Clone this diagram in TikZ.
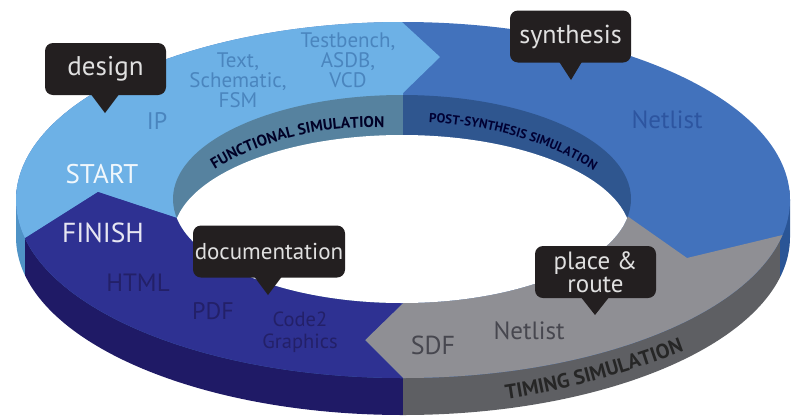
\documentclass[tikz,border=0pt]{standalone}
\usepackage{fontspec}
\setmainfont{PT Sans}
\usetikzlibrary{decorations.text}
\definecolor{cLight}{HTML}{6DB1E6}
\definecolor{cMid}{HTML}{4272BC}
\definecolor{cGray}{HTML}{8F8F94}
\definecolor{cNavy}{HTML}{2E3192}
\definecolor{cLightWall}{HTML}{4F93C6}
\definecolor{cMidWall}{HTML}{2A5596}
\definecolor{cGrayWall}{HTML}{5E5F63}
\definecolor{cNavyWall}{HTML}{1F1A66}
\definecolor{cSteel}{HTML}{56829F}
\definecolor{cInnerDark}{HTML}{2F568F}
\definecolor{cBubble}{HTML}{231F20}
\definecolor{tLight}{HTML}{4A85BE}
\definecolor{tMid}{HTML}{2D55A0}
\definecolor{tGray}{HTML}{47474F}
\definecolor{tNavy}{HTML}{232068}
\tikzset{
  bubble/.style={fill=cBubble,rounded corners=8pt,inner sep=0pt,minimum width=121pt,minimum height=52pt,text=white!88!black,align=center},
  tiptri/.style={fill=cBubble},
  lab/.style={inner sep=0pt,align=center},
}
\newcommand{\fsz}[1]{\fontsize{#1}{#1}\selectfont}
\begin{document}
\begin{tikzpicture}[x=1pt,y=-1pt]
\useasboundingbox (0,0) rectangle (799,418);
% outer walls
\begin{scope}
  \clip (16,200) -- (16,237) arc[start angle=180,end angle=0,x radius=387,y radius=178] -- (790,200) arc[start angle=0,end angle=-180,x radius=387,y radius=178] -- cycle;
  \fill[cLightWall] (0,190) rectangle (25,418);
  \fill[cNavyWall] (25,190) rectangle (403,418);
  \fill[cGrayWall] (403,190) rectangle (780,418);
  \fill[cMidWall] (780,190) rectangle (799,418);
\end{scope}
% top surface
\begin{scope}
  \clip (403,200) ellipse[x radius=387,y radius=178];
  \fill[cMid] (0,0) rectangle (799,418);
  \fill[cLight] (0,0) -- (378,0) -- (440,57) -- (403,93) -- (403,219) -- (180,219) -- (98,192) -- (0,254) -- cycle;
  \fill[cGray] (365,340) -- (403,303) -- (403,205) -- (610,204) -- (687,258) -- (820,226) -- (820,418) -- (403,418) -- (403,378) -- cycle;
  \fill[cNavy] (0,254) -- (98,192) -- (180,219) -- (403,219) -- (403,303) -- (365,340) -- (403,378) -- (403,418) -- (0,418) -- cycle;
\end{scope}
% inner wall and hole
\begin{scope}
  \clip (402,199) ellipse[x radius=229,y radius=104];
  \fill[cSteel] (170,90) rectangle (403,310);
  \fill[cInnerDark] (403,90) rectangle (640,310);
  \fill[white] (402,237) ellipse[x radius=229,y radius=102];
\end{scope}
% wall labels
\path[decorate,decoration={text along path,text color=black!85!blue,text={|\fsz{15.5}\bfseries|FUNCTIONAL SIMULATION},text align=center}]
  (208,174) .. controls (262,138) and (325,125) .. (392,128);
\path[decorate,decoration={text along path,text color=black!80!blue,text={|\fsz{13}\bfseries|POST-SYNTHESIS SIMULATION},text align=center}]
  (424,122) .. controls (490,125) and (550,142) .. (598,173);
\path[decorate,decoration={text along path,text color=black!85,text={|\fsz{20.5}\bfseries|TIMING SIMULATION},text align=center}]
  (500,400) .. controls (565,391) and (630,372) .. (690,349);
% labels on the ring
\node[lab,text=white!90!cLight,font=\fsz{27}] (startlab) at (102,174) {START};
\node[lab,text=tLight,font=\fsz{24}] (iplab) at (157,121) {IP};
\node[lab,text=tLight,font=\fontsize{21}{20}\selectfont] (textlab) at (238,80) {Text,\\Schematic,\\FSM};
\node[lab,text=tLight,font=\fontsize{21}{20}\selectfont] (tblab) at (348,60) {Testbench,\\ASDB,\\VCD};
\node[lab,text=tMid,font=\fsz{25}] (netlista) at (667,120) {Netlist};
\node[lab,text=white!88!cNavy,font=\fsz{27.5}] (finishlab) at (103,233) {FINISH};
\node[lab,text=tNavy,font=\fsz{25}] (htmllab) at (138,283) {HTML};
\node[lab,text=tNavy,font=\fsz{24}] (pdflab) at (213,311) {PDF};
\node[lab,text=tNavy,font=\fontsize{20.5}{22}\selectfont] (codelab) at (300,332) {Code2\\Graphics};
\node[lab,text=tGray,font=\fsz{25}] (netlistb) at (529,331) {Netlist};
\node[lab,text=tGray,font=\fsz{26}] (sdflab) at (433,345) {SDF};
% bubbles
\fill[tiptri] (90,93) -- (105,113) -- (120,93) -- cycle;
\node[bubble,font=\fsz{27}] (design) at (105.5,69) {design};
\fill[tiptri] (558,60) -- (571,80) -- (583,60) -- cycle;
\node[bubble,font=\fsz{26}] (synthesis) at (570.5,36.5) {synthesis};
\fill[tiptri] (253,275) -- (268,295) -- (283,275) -- cycle;
\node[bubble,minimum width=152pt,font=\fsz{23}] (documentation) at (269,251.5) {documentation};
\fill[tiptri] (580,296) -- (595,315) -- (610,296) -- cycle;
\node[bubble,font=\fontsize{25}{23}\selectfont] (placeroute) at (595.5,272) {place \&\\route};
\end{tikzpicture}
\end{document}
